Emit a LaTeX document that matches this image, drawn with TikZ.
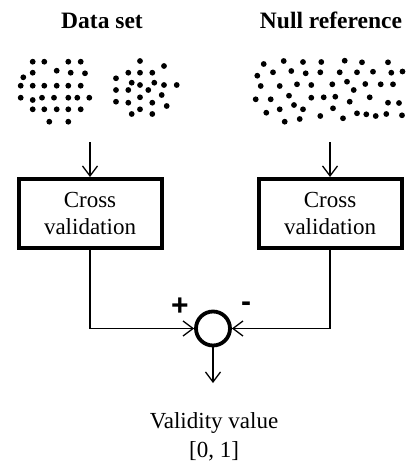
\documentclass[tikz,border=0pt]{standalone}
\usepackage{fontspec}
\setmainfont{Liberation Serif}
\newfontfamily\signfont{Liberation Sans}
\usetikzlibrary{arrows.meta}
\begin{document}
\begin{tikzpicture}[x=1pt,y=-1pt,
  txt/.style={font=\fontsize{23}{27}\selectfont, inner sep=0pt},
  head/.style={font=\fontsize{23.5}{27}\selectfont\bfseries, inner sep=0pt, anchor=base},
  cvbox/.style={draw, line width=4pt, minimum width=143pt, minimum height=69pt, inner sep=0pt, align=center, font=\fontsize{23}{27}\selectfont},
  sumnode/.style={draw, circle, line width=3.8pt, minimum size=34pt, inner sep=0pt},
  sign/.style={font=\signfont\bfseries\fontsize{30}{30}\selectfont, inner sep=0pt},
  conn/.style={line width=1.3pt, -{Straight Barb[length=10pt,width=15pt,line width=1.3pt]}},
  dot/.style={fill=black}
]
\useasboundingbox (0,0) rectangle (406,463);

% headers
\node[head] (hd) at (102,28) {Data set};
\node[head] (hn) at (331,28) {Null reference};

% data set dots
\foreach \p in {(32.7,61.7),(44.3,61.7),(68.3,61.7),(80.7,61.7),
  (56.7,70.7),(32.7,72.7),(70.7,72.7),(85,73.3),(23.3,77.3),
  (20.7,85.7),(32.7,85.7),(44.3,85.7),(56.7,85.7),(68.3,85.7),(80.7,85.7),
  (20.7,97.7),(32.7,100),(42,97.7),(54,97.7),(68.3,97.7),(77.3,97.7),(89.3,97.7),
  (32.7,109.3),(44.3,109.3),(56.7,109.3),(68.3,109.3),(80.7,109.3),
  (49.3,121.7),(68.3,121.7),
  (140,61),(164,66),(128.3,72.7),(140,72.7),(152.3,72.7),(116,78.3),
  (131.7,82.7),(140,85),(154.3,82.7),(164,85),(176.7,85),
  (116,90),(128.3,90),(148.3,90),(140,97.3),(161.7,95),
  (116,101.7),(128.3,102.7),(152.3,102.7),(140,109.3),(166.7,106),
  (131.7,114),(152.3,114)}
  \fill[dot] \p circle (2.9pt);

% null reference dots
\foreach \p in {(263.7,64),(283.7,61),(303,62),(321.3,62),(344.7,60.7),(362,62.3),(388,62.3),
  (257.3,75.7),(273,72.3),(291.3,71),(305.7,73.3),(320.3,72.3),(339.7,72.3),(357,72.3),(373,71.7),(391.3,72.7),(402.5,71.5),
  (260.7,86),(279.7,86),(297,84.3),(311.3,85),(332.3,84.3),(347,81.7),(353.7,90),(365.3,84),(380.7,84.3),(393,84.3),
  (255.7,99.3),(270.7,99.3),(289,95.7),(311.3,97.7),(323.7,97.3),(335.3,96.7),(349.7,101.7),(369.7,97.3),(388,102.7),(399,103),
  (294,105),(266.3,112.7),(279.7,109.3),(303,109.3),(333,108.3),
  (284.7,121.7),(299.7,119),(320.3,116),(343,118.3),(357,113.3),(366.3,114.3),(375.7,116),(386.3,114),(402,115.3)}
  \fill[dot] \p circle (2.9pt);

% boxes
\node[cvbox] (cvl) at (90,213.5) {Cross\\validation};
\node[cvbox] (cvr) at (330,213.5) {Cross\\validation};

\coordinate (inl) at (90,142);
\coordinate (inr) at (330,142);
\draw[conn] (inl) -- (cvl.north);
\draw[conn] (inr) -- (cvr.north);

% summing junction
\node[sumnode] (sum) at (213,328.5) {};
\draw[conn] (cvl.south) |- (sum.west);
\draw[conn] (cvr.south) |- (sum.east);

\node[sign] (plus) at (180,307) {+};
\node[sign] (minus) at (246,307) {-};

\coordinate (outp) at (213,383);
\draw[conn] (sum.south) -- (outp);

% output text
\node[txt, anchor=base] (vv) at (214,428) {Validity value};
\node[txt, anchor=base] (rng) at (214,457) {[0, 1]};
\end{tikzpicture}
\end{document}
